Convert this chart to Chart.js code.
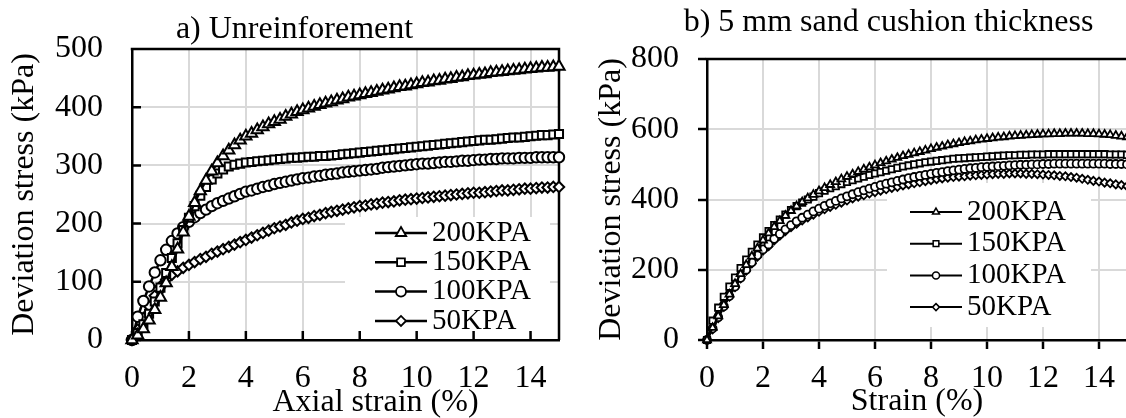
<!DOCTYPE html>
<html>
<head>
<meta charset="utf-8">
<script src="https://cdn.jsdelivr.net/npm/chart.js@4.4.1/dist/chart.umd.min.js"></script>
<style>
  html, body { margin: 0; padding: 0; background: #fff; }
  body { position: relative; width: 1126px; height: 418px; overflow: hidden; }
  canvas { position: absolute; top: 0; }
  #chartA { left: 0; }
  #chartB { left: 560px; }
</style>
</head>
<body>
<canvas id="chartA" width="600" height="430"></canvas>
<canvas id="chartB" width="600" height="430"></canvas>
<script>
// Axial strain (%) at which every reading was taken
const strain = [0,0.2,0.4,0.6,0.8,1,1.2,1.4,1.6,1.8,2,2.2,2.4,2.6,2.8,3,3.2,3.4,3.6,3.8,
  4,4.2,4.4,4.6,4.8,5,5.2,5.4,5.6,5.8,6,6.2,6.4,6.6,6.8,7,7.2,7.4,7.6,7.8,
  8,8.2,8.4,8.6,8.8,9,9.2,9.4,9.6,9.8,10,10.2,10.4,10.6,10.8,11,11.2,11.4,11.6,11.8,
  12,12.2,12.4,12.6,12.8,13,13.2,13.4,13.6,13.8,14,14.2,14.4,14.6,14.8,15];

const seriesLabels = ['200KPA', '150KPA', '100KPA', '50KPA'];

// a) Unreinforced sample: deviator stress (kPa)
const unreinforced200 = [0,8,19,34,52,73,98,126,156,185,212,236,256,274,290,304,316,326,335,343,
  350,355,361,366,371,375,379,384,388,392,395,398,401,404,407,409,412,414,417,419,
  421,423,425,427,429,431,433,435,436,438,440,442,443,445,446,448,449,451,452,454,
  455,456,457,459,460,461,462,463,464,465,466,467,468,468,469,470];
const unreinforced150 = [0,12,27,45,66,90,115,141,166,189,210,230,248,263,276,286,293,298,301,303,
  305,306,307,308,309,310,311,312,313,313,314,315,315,316,316,317,318,319,320,321,
  322,323,324,325,326,327,328,329,330,331,332,333,334,335,336,337,338,339,340,341,
  342,343,344,344,345,346,347,348,348,349,350,351,352,352,353,354];
const unreinforced100 = [0,40,67,92,116,137,155,170,183,194,203,211,218,224,230,235,239,243,247,251,
  255,257,260,263,265,268,270,272,274,276,278,279,281,282,284,285,286,288,289,290,
  291,292,293,294,296,297,298,299,300,301,302,303,303,304,305,306,306,307,308,308,
  309,310,310,311,311,312,312,312,313,313,313,314,314,314,314,314];
const unreinforced50 = [0,18,38,58,76,92,104,112,118,124,129,134,139,143,148,152,156,160,164,168,
  172,176,180,184,188,192,195,198,202,205,208,210,213,215,218,220,222,224,226,228,
  230,231,233,234,236,237,238,240,241,242,243,244,245,246,247,248,249,250,251,252,
  253,253,254,255,256,257,257,258,259,260,260,261,262,262,263,263];

// b) 5 mm sand cushion: deviator stress (kPa)
const cushion200 = [0,35,68,100,130,160,188,214,238,261,284,304,322,339,354,368,381,393,404,414,
  424,433,442,450,458,465,472,479,486,492,498,504,509,514,519,524,528,532,536,540,
  544,548,551,555,558,561,564,566,569,571,573,575,577,578,580,581,582,583,584,585,
  586,586,587,587,588,588,588,588,587,587,586,585,584,582,580,578];
const cushion150 = [0,55,92,123,152,178,205,229,251,272,292,310,327,343,357,370,381,391,400,408,
  418,425,432,438,444,450,455,460,465,470,474,478,482,486,490,494,497,500,503,506,
  508,510,512,514,516,517,518,519,520,521,522,523,524,525,526,526,527,527,528,528,
  528,529,529,529,529,529,529,529,529,529,529,529,528,528,528,527];
const cushion100 = [0,33,65,96,125,152,177,200,221,241,258,272,288,302,315,327,338,348,357,366,
  374,382,389,396,403,409,415,421,426,431,436,441,445,449,453,457,461,464,467,470,
  473,476,478,481,483,485,487,489,490,492,493,494,495,496,497,498,499,499,500,500,
  501,501,502,502,502,502,502,502,502,502,502,502,501,501,501,500];
const cushion50 = [0,30,62,94,123,150,175,197,218,237,254,267,283,297,310,321,331,340,349,357,
  365,372,379,385,391,397,403,408,412,417,421,425,429,433,436,440,443,446,449,452,
  455,458,460,462,464,465,466,468,469,470,471,472,473,473,474,474,474,473,473,472,
  471,470,469,467,466,464,462,459,456,453,451,448,446,443,441,438];

const serif = "'Liberation Serif', 'Times New Roman', Times, serif";
Chart.defaults.font.family = serif;
Chart.defaults.color = '#000';

// Linear scale whose axis title can be nudged sideways
class ShiftedTitleScale extends Chart.LinearScale {
  drawTitle() {
    const shift = (this.options.title && this.options.title.shift) || 0;
    this.ctx.save();
    this.ctx.translate(shift, 0);
    super.drawTitle();
    this.ctx.restore();
  }
}
ShiftedTitleScale.id = 'linearShiftedTitle';
ShiftedTitleScale.defaults = Chart.LinearScale.defaults;
Chart.register(ShiftedTitleScale);

const markerStyles = ['triangle', 'rect', 'circle', 'rectRot'];

function buildDatasets(seriesList, radii, lineWidth, markerLine) {
  return seriesList.map((values, i) => ({
    label: seriesLabels[i],
    data: values.map((v, k) => ({ x: strain[k], y: v })),
    borderColor: '#000',
    borderWidth: lineWidth,
    pointStyle: markerStyles[i],
    pointRadius: radii[i],
    pointBackgroundColor: '#fff',
    pointBorderColor: '#000',
    pointBorderWidth: markerLine,
    tension: 0,
    clip: false
  }));
}

// Moves the chart title sideways after layout
const titleNudge = {
  id: 'titleNudge',
  afterLayout(chart, args, o) {
    const t = chart.titleBlock;
    if (t && o.dx) { t.left += o.dx; t.right += o.dx; }
  }
};

// Legend drawn inside the plot: white panel, line sample with marker, label
const insetLegend = {
  id: 'insetLegend',
  beforeDatasetsDraw(chart, args, o) {
    const ctx = chart.ctx;
    ctx.save();
    ctx.fillStyle = '#fff';
    ctx.fillRect(o.box[0], o.box[1], o.box[2], o.box[3]);
    ctx.font = o.fontSize + 'px ' + serif;
    ctx.textBaseline = 'middle';
    ctx.textAlign = 'left';
    chart.data.datasets.forEach((ds, i) => {
      const y = o.rowY + i * o.rowGap;
      ctx.strokeStyle = '#000';
      ctx.lineWidth = ds.borderWidth;
      ctx.beginPath();
      ctx.moveTo(o.lineFrom, y);
      ctx.lineTo(o.lineTo, y);
      ctx.stroke();
      ctx.fillStyle = '#fff';
      ctx.lineWidth = o.markerLine || ds.pointBorderWidth;
      Chart.helpers.drawPoint(ctx, {
        pointStyle: ds.pointStyle,
        radius: o.markerRadius ? o.markerRadius[i] : ds.pointRadius,
        borderWidth: o.markerLine || ds.pointBorderWidth,
        rotation: 0
      }, (o.lineFrom + o.lineTo) / 2, y);
      ctx.fillStyle = '#000';
      ctx.fillText(ds.label, o.textX, y);
    });
    ctx.restore();
  }
};

// Black frame on the top/right of the plot and optional inward tick marks
const plotFrame = {
  id: 'plotFrame',
  beforeDatasetsDraw(chart, args, o) {
    const { ctx, chartArea: a, scales } = chart;
    ctx.save();
    ctx.strokeStyle = '#000';
    ctx.lineWidth = o.width;
    ctx.beginPath();
    ctx.moveTo(a.left - o.width / 2, a.top);
    ctx.lineTo(a.right + o.width / 2, a.top);
    if (o.rightEdge) {
      ctx.moveTo(a.right, a.top);
      ctx.lineTo(a.right, a.bottom);
    }
    if (o.innerTick) {
      scales.x.ticks.forEach(t => {
        const px = scales.x.getPixelForValue(t.value);
        ctx.moveTo(px, a.bottom);
        ctx.lineTo(px, a.bottom - o.innerTick);
      });
      scales.y.ticks.forEach(t => {
        const py = scales.y.getPixelForValue(t.value);
        ctx.moveTo(a.left, py);
        ctx.lineTo(a.left + o.innerTick, py);
      });
    }
    ctx.stroke();
    ctx.restore();
  }
};

const gridStyle = { color: '#d9d9d9', lineWidth: 2 };
const axisBorder = { color: '#000', width: 2.5 };

// a) Unreinforement
new Chart(document.getElementById('chartA'), {
  type: 'line',
  data: {
    datasets: buildDatasets([unreinforced200, unreinforced150, unreinforced100, unreinforced50],
      [6.5, 5.7, 5.2, 5.2], 2.5, 2)
  },
  plugins: [titleNudge, insetLegend, plotFrame],
  options: {
    responsive: false,
    animation: false,
    events: [],
    layout: { autoPadding: false, padding: { top: 10, left: 30, right: 41, bottom: 20 } },
    scales: {
      x: {
        type: 'linearShiftedTitle',
        min: 0, max: 15,
        ticks: { stepSize: 2, includeBounds: false, padding: 19, maxRotation: 0, font: { size: 32 } },
        grid: Object.assign({ drawTicks: false }, gridStyle),
        border: axisBorder,
        title: { display: true, text: 'Axial strain (%)', font: { size: 32 }, padding: { top: 0, bottom: -12 }, shift: 30 },
        afterFit: s => { s.height = 70; }
      },
      y: {
        min: 0, max: 500,
        ticks: { stepSize: 100, padding: 29, font: { size: 32 } },
        grid: Object.assign({ drawTicks: false }, gridStyle),
        border: axisBorder,
        title: { display: true, text: 'Deviation stress (kPa)', font: { size: 32 }, padding: { top: -25, bottom: 0 } },
        afterFit: s => { s.width = 102; }
      }
    },
    plugins: {
      legend: { display: false },
      tooltip: { enabled: false },
      title: {
        display: true, text: 'a) Unreinforement', color: '#000',
        font: { size: 32, weight: 'normal' }, padding: { top: 0, bottom: 0.6 }
      },
      titleNudge: { dx: 0 },
      insetLegend: {
        box: [345, 217, 205, 118], lineFrom: 375, lineTo: 427, textX: 432,
        rowY: 233, rowGap: 29.3, fontSize: 29, markerRadius: [6, 5.5, 5, 5], markerLine: 1.8
      },
      plotFrame: { width: 2.5, rightEdge: true, innerTick: 9 }
    }
  }
});

// b) 5 mm sand cushion thickness
new Chart(document.getElementById('chartB'), {
  type: 'line',
  data: {
    datasets: buildDatasets([cushion200, cushion150, cushion100, cushion50],
      [4.5, 4.5, 4, 4], 2, 1.8)
  },
  plugins: [titleNudge, insetLegend, plotFrame],
  options: {
    responsive: false,
    animation: false,
    events: [],
    layout: { autoPadding: false, padding: { top: 3, left: 30, right: 33, bottom: 20 } },
    scales: {
      x: {
        type: 'linear',
        min: 0, max: 15,
        ticks: { stepSize: 2, includeBounds: false, padding: 10, maxRotation: 0, font: { size: 32 } },
        grid: Object.assign({ drawTicks: true, tickLength: 9, tickColor: '#000', tickWidth: 2.5 }, gridStyle),
        border: axisBorder,
        title: { display: true, text: 'Strain (%)', font: { size: 32 }, padding: { top: 0, bottom: -11 } },
        afterFit: s => { s.height = 70; }
      },
      y: {
        min: 0, max: 800,
        ticks: { stepSize: 200, padding: 19, font: { size: 32 } },
        grid: Object.assign({ drawTicks: true, tickLength: 9, tickColor: '#000', tickWidth: 2.5 }, gridStyle),
        border: axisBorder,
        title: { display: true, text: 'Deviation stress (kPa)', font: { size: 32 }, padding: { top: 2, bottom: 0 } },
        afterFit: s => { s.width = 117; }
      }
    },
    plugins: {
      legend: { display: false },
      tooltip: { enabled: false },
      title: {
        display: true, text: 'b) 5 mm sand cushion thickness', color: '#000',
        font: { size: 32, weight: 'normal' }, padding: { top: 0, bottom: 17.6 }
      },
      titleNudge: { dx: 30 },
      insetLegend: {
        box: [327, 183, 204, 144], lineFrom: 350, lineTo: 402, textX: 407,
        rowY: 212, rowGap: 31.7, fontSize: 29, markerRadius: [4, 4, 3.5, 3.5], markerLine: 1.5
      },
      plotFrame: { width: 2.5, rightEdge: false, innerTick: 0 }
    }
  }
});
</script>
</body>
</html>
